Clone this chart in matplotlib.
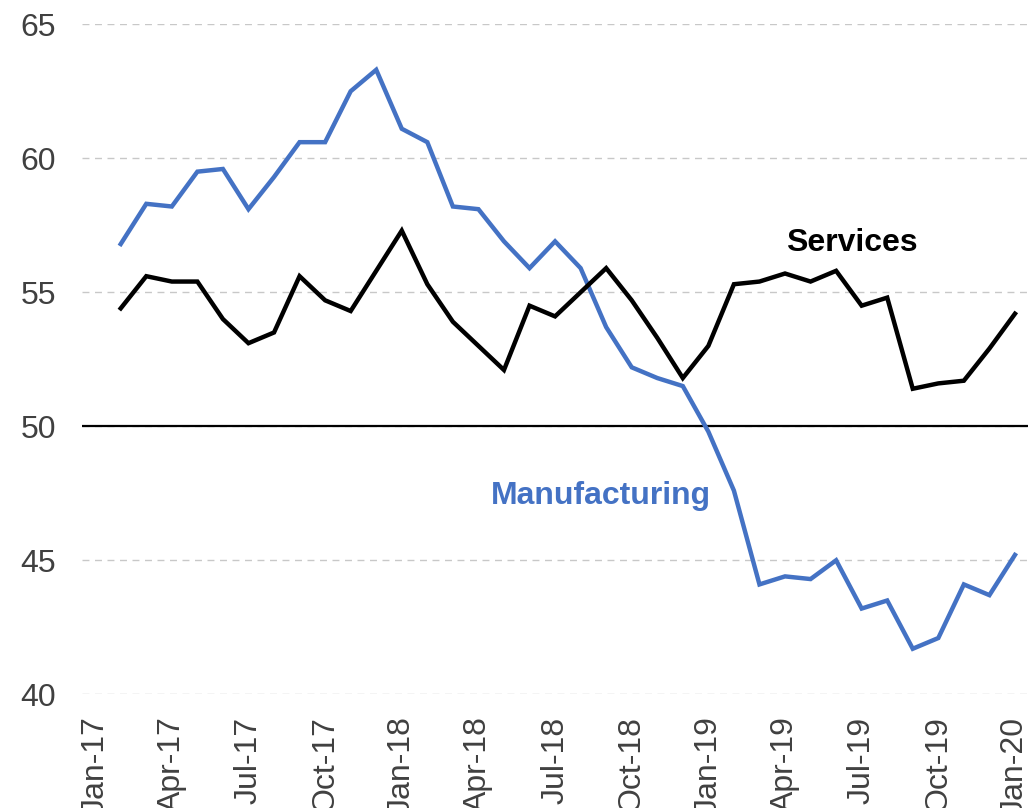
import matplotlib.pyplot as plt
import numpy as np
import pandas as pd

plt.rcParams["font.family"] = ["Liberation Sans", "DejaVu Sans"]

# monthly categories Jan-17 .. Jan-20
months = pd.date_range("2017-01-01", "2020-01-01", freq="MS").strftime("%b-%y").tolist()

# PMI readings, Feb-17 .. Jan-20 (no reading for Jan-17)
manufacturing = [56.8, 58.3, 58.2, 59.5, 59.6, 58.1, 59.3, 60.6, 60.6, 62.5, 63.3, 61.1,
                 60.6, 58.2, 58.1, 56.9, 55.9, 56.9, 55.9, 53.7, 52.2, 51.8, 51.5, 49.8,
                 47.6, 44.1, 44.4, 44.3, 45.0, 43.2, 43.5, 41.7, 42.1, 44.1, 43.7, 45.2]
services = [54.4, 55.6, 55.4, 55.4, 54.0, 53.1, 53.5, 55.6, 54.7, 54.3, 55.8, 57.3,
            55.3, 53.9, 53.0, 52.1, 54.5, 54.1, 55.0, 55.9, 54.7, 53.3, 51.8, 53.0,
            55.3, 55.4, 55.7, 55.4, 55.8, 54.5, 54.8, 51.4, 51.6, 51.7, 52.9, 54.2]

blue = "#4472C4"
grey_text = "#404040"

fig = plt.figure(figsize=(10.3, 8.08), dpi=100)
ax = fig.add_axes([0.08, 0.1407, 0.9178, 0.8293])

x = np.arange(1, len(months))
ax.plot(x, manufacturing, color=blue, lw=3.2, solid_joinstyle="miter", zorder=3)
ax.plot(x, services, color="black", lw=3.2, solid_joinstyle="miter", zorder=3)

ax.axhline(50, color="black", lw=1.6, zorder=2)

ax.set_xlim(-0.5, len(months) - 0.5)
ax.set_ylim(40, 65)
ax.set_yticks(np.arange(40, 66, 5))
ax.yaxis.grid(True, color="#c8c8c8", lw=1, ls=(0, (5, 4)))
ax.set_axisbelow(True)

tick_idx = np.arange(0, len(months), 3)
ax.set_xticks(tick_idx)
ax.set_xticklabels([months[i] for i in tick_idx], rotation=90, va="top", ha="center")

ax.tick_params(axis="both", length=0, labelsize=23, labelcolor=grey_text)
ax.tick_params(axis="y", pad=19)
ax.tick_params(axis="x", pad=16)
for s in ax.spines.values():
    s.set_visible(False)

ax.text(29.6, 56.85, "Services", fontsize=23, fontweight="bold", color="black",
        ha="center", va="center")
ax.text(19.8, 47.4, "Manufacturing", fontsize=23, fontweight="bold", color=blue,
        ha="center", va="center")

fig.savefig("out.png", dpi=100)
